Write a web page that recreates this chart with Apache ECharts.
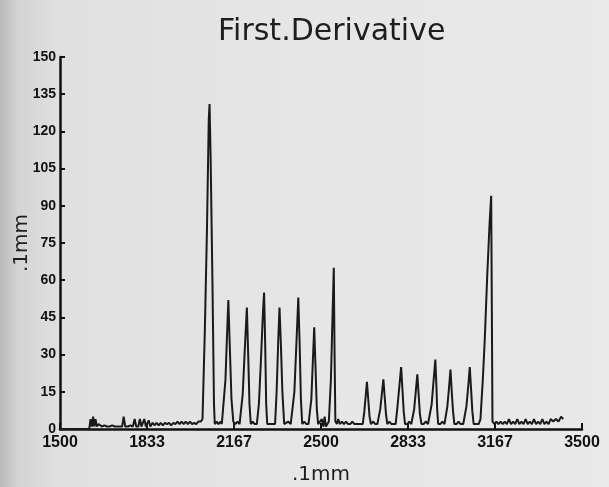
<!DOCTYPE html>
<html>
<head>
<meta charset="utf-8">
<script src="https://cdn.jsdelivr.net/npm/echarts@6/dist/echarts.min.js"></script>
<style>
  html, body { margin: 0; padding: 0; }
  body {
    width: 609px; height: 487px; overflow: hidden;
    background: linear-gradient(to right, #b9b9b9 0px, #d4d4d4 18px, #e0e0e0 60px, #e6e6e6 300px, #e9e9e9 100%);
  }
  #chart { width: 609px; height: 487px; }
</style>
</head>
<body>
<div id="chart"></div>
<script>
  // x positions (.1mm) and first derivative values (.1mm)
  var xPos = [
    1500, 1612, 1617, 1622, 1627, 1631, 1636, 1641, 1648, 1660, 1670, 1680, 1690, 1700, 1710, 1720, 1730, 1738,
    1744, 1750, 1760, 1770, 1779, 1786, 1792, 1800, 1806, 1812, 1818, 1823, 1829, 1835, 1840, 1846, 1855, 1862,
    1870, 1878, 1886, 1894, 1902, 1910, 1918, 1926, 1934, 1942, 1950, 1958, 1966, 1974, 1982, 1990, 1998, 2006,
    2014, 2022, 2030, 2040,
    2046, 2055, 2063, 2070, 2073, 2077, 2084, 2090, 2093,
    2100, 2107, 2115, 2120,
    2126, 2134, 2140, 2145, 2150, 2157, 2164,
    2172, 2180, 2188,
    2192, 2200, 2208, 2216, 2221, 2226, 2231,
    2238, 2246,
    2254, 2262, 2270, 2278, 2282, 2286, 2290, 2294,
    2302, 2313, 2320,
    2324, 2330, 2336, 2341, 2346, 2352, 2359,
    2366, 2374, 2384,
    2390, 2398, 2406, 2413, 2418, 2423, 2428,
    2436, 2444, 2452,
    2457, 2463, 2469, 2474, 2479, 2484, 2489,
    2496, 2503, 2509, 2514, 2519, 2524,
    2530, 2538, 2544, 2549, 2552, 2555,
    2561, 2566, 2572, 2580, 2588, 2596, 2604, 2612, 2620, 2628, 2636, 2644, 2652,
    2660, 2666, 2671, 2676, 2681, 2686, 2691,
    2700, 2708, 2716,
    2721, 2727, 2733, 2739, 2744, 2749, 2754,
    2762, 2770, 2778,
    2786, 2793, 2800, 2807, 2812, 2817, 2822,
    2830, 2838, 2846,
    2850, 2857, 2863, 2869, 2874, 2879, 2885,
    2893, 2901, 2910,
    2916, 2924, 2931, 2938, 2942, 2945, 2949,
    2957, 2965, 2973,
    2977, 2984, 2990, 2996, 3001, 3006, 3011,
    3019, 3027, 3035, 3045,
    3050, 3057, 3064, 3070, 3075, 3080, 3085,
    3092, 3104,
    3111, 3120, 3127, 3137, 3146, 3152, 3155, 3157,
    3165, 3172, 3180, 3188, 3196, 3204, 3212, 3220, 3228, 3236, 3244, 3252, 3260, 3268, 3276, 3284, 3292,
    3300, 3308, 3316, 3324, 3332, 3340, 3348, 3356, 3364, 3372, 3380, 3390, 3400, 3410, 3420, 3428
  ];
  var derivative = [
    0, 0, 4, 1, 5, 1, 4, 1, 2, 1, 1.5, 1, 1, 1.5, 1, 1, 1, 1,
    5, 1, 1, 1.5, 1, 4, 1, 1, 4, 1, 1, 4, 1, 1, 3.5, 1, 2.5, 1.5,
    2.5, 1.5, 2.5, 1.5, 2.5, 2, 2.5, 1.5, 2.5, 2, 3, 2, 3, 2, 3, 2, 3, 2,
    2.5, 2, 3, 3,
    4, 40, 80, 125, 131, 110, 60, 10, 2,
    3, 2, 3, 2,
    2, 20, 38, 52, 35, 12, 3,
    2, 3, 2,
    2, 14, 32, 49, 30, 10, 2,
    3, 2,
    2, 10, 28, 48, 55, 35, 10, 2,
    2, 2, 2,
    2, 15, 35, 49, 35, 15, 2,
    2, 3, 2,
    2, 15, 35, 53, 35, 12, 2,
    3, 2, 2,
    2, 12, 28, 41, 25, 8, 2,
    2, 4, 1, 5, 1, 1,
    3, 20, 45, 65, 30, 3,
    2, 4, 2, 3, 2, 3, 2, 2, 3, 2, 2, 2, 2,
    2, 7, 13, 19, 12, 5, 2,
    3, 2, 2,
    2, 8, 14, 20, 13, 6, 2,
    3, 2, 2,
    2, 9, 17, 25, 16, 7, 2,
    2, 3, 2,
    2, 8, 15, 22, 14, 6, 2,
    2, 3, 2,
    2, 10, 19, 28, 18, 8, 2,
    2, 3, 2,
    2, 9, 16, 24, 15, 7, 2,
    2, 3, 2, 2,
    2, 9, 17, 25, 16, 7, 2,
    2, 2,
    4, 20, 35, 62, 83, 94, 40, 3,
    2, 3, 2, 3, 2, 3, 2, 4, 2, 3, 2, 4, 2, 3, 2, 4, 2,
    3, 2, 4, 2, 3, 2, 4, 2, 3, 2, 4, 3, 4, 3, 5, 4
  ];
  var xTicks = [1500, 1833.33, 2166.67, 2500, 2833.33, 3166.67, 3500];

  var chart = echarts.init(document.getElementById('chart'));
  var pts = xPos.map(function (x, i) { return [x, derivative[i]]; });

  chart.setOption({
    backgroundColor: 'transparent',
    animation: false,
    title: {
      text: 'First.Derivative',
      left: 213,
      top: 12,
      textStyle: { fontFamily: 'DejaVu Sans', fontSize: 30, fontWeight: 'normal', color: '#1e1e1e' }
    },
    grid: { left: 60, right: 27, top: 57, bottom: 58, outerBoundsMode: 'none' },
    xAxis: {
      type: 'value',
      min: 1500,
      max: 3500,
      name: '.1mm',
      nameLocation: 'middle',
      nameGap: 36,
      nameMoveOverlap: false,
      nameTextStyle: { fontFamily: 'DejaVu Sans', fontSize: 20, color: '#1e1e1e' },
      axisLine: { lineStyle: { color: '#111', width: 2.5 } },
      axisTick: { inside: true, length: 6, customValues: xTicks, lineStyle: { color: '#111', width: 2 } },
      axisLabel: {
        customValues: xTicks,
        margin: 6,
        fontFamily: 'Liberation Sans',
        fontWeight: 'bold',
        fontSize: 16,
        color: '#111',
        formatter: function (v) { return Math.round(v); }
      },
      splitLine: { show: false }
    },
    yAxis: {
      type: 'value',
      min: 0,
      max: 150,
      interval: 15,
      name: '.1mm',
      nameLocation: 'middle',
      nameGap: 28,
      nameMoveOverlap: false,
      nameTextStyle: { fontFamily: 'DejaVu Sans', fontSize: 20, color: '#1e1e1e' },
      axisLine: { show: true, lineStyle: { color: '#111', width: 2.5 } },
      axisTick: { show: true, inside: true, length: 5, lineStyle: { color: '#111', width: 2 } },
      axisLabel: {
        margin: 4,
        fontFamily: '"Liberation Sans Narrow", "Liberation Sans", sans-serif',
        fontWeight: 'bold',
        fontSize: 14,
        color: '#111'
      },
      splitLine: { show: false }
    },
    series: [{
      type: 'line',
      data: pts,
      showSymbol: false,
      lineStyle: { color: '#1a1a1a', width: 2 }
    }]
  });
</script>
</body>
</html>
